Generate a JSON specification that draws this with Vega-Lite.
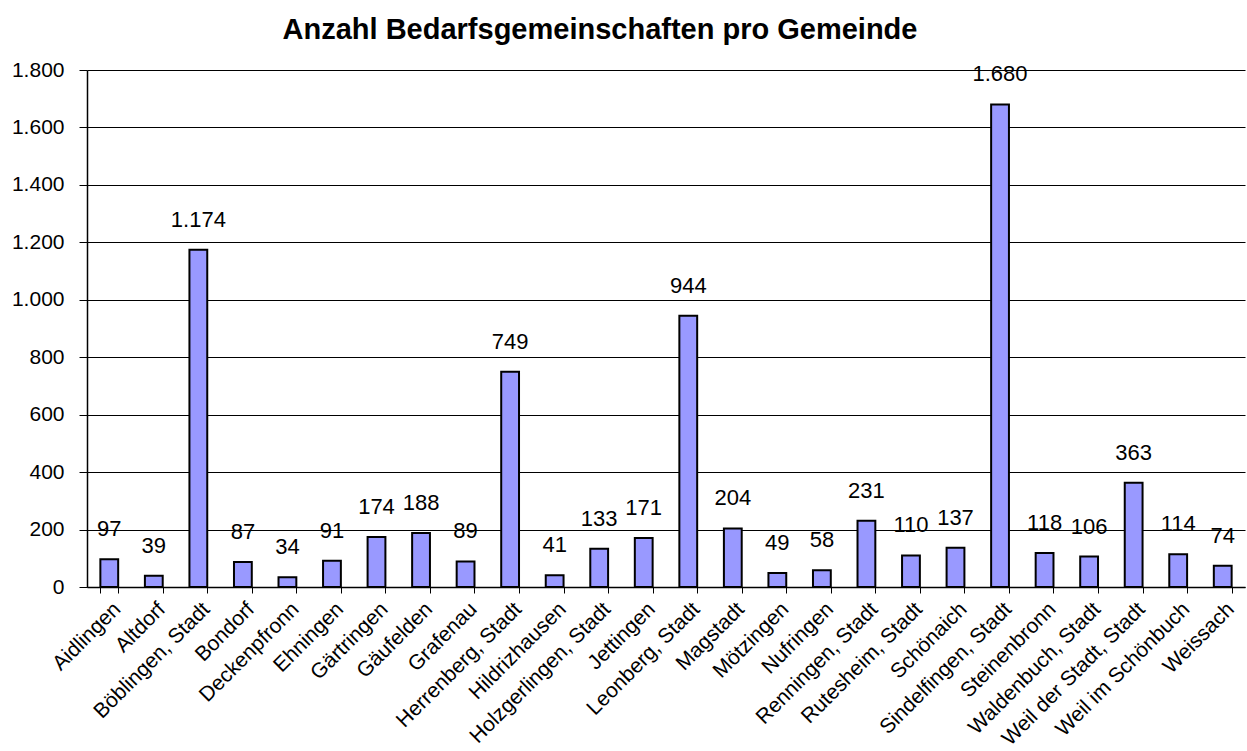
{
  "$schema": "https://vega.github.io/schema/vega-lite/v6.json",
  "width": 1158,
  "height": 517,
  "autosize": "none",
  "padding": {"left": 87, "top": 70, "right": 2, "bottom": 164},
  "background": "white",
  "title": {
    "text": "Anzahl Bedarfsgemeinschaften pro Gemeinde",
    "font": "Liberation Sans",
    "fontSize": 29,
    "fontWeight": "bold",
    "color": "black",
    "anchor": "middle",
    "dx": -66,
    "offset": 14
  },
  "data": {
    "values": [
      {"gemeinde": "Aidlingen", "anzahl": 97},
      {"gemeinde": "Altdorf", "anzahl": 39},
      {"gemeinde": "Böblingen, Stadt", "anzahl": 1174},
      {"gemeinde": "Bondorf", "anzahl": 87},
      {"gemeinde": "Deckenpfronn", "anzahl": 34},
      {"gemeinde": "Ehningen", "anzahl": 91},
      {"gemeinde": "Gärtringen", "anzahl": 174},
      {"gemeinde": "Gäufelden", "anzahl": 188},
      {"gemeinde": "Grafenau", "anzahl": 89},
      {"gemeinde": "Herrenberg, Stadt", "anzahl": 749},
      {"gemeinde": "Hildrizhausen", "anzahl": 41},
      {"gemeinde": "Holzgerlingen, Stadt", "anzahl": 133},
      {"gemeinde": "Jettingen", "anzahl": 171},
      {"gemeinde": "Leonberg, Stadt", "anzahl": 944},
      {"gemeinde": "Magstadt", "anzahl": 204},
      {"gemeinde": "Mötzingen", "anzahl": 49},
      {"gemeinde": "Nufringen", "anzahl": 58},
      {"gemeinde": "Renningen, Stadt", "anzahl": 231},
      {"gemeinde": "Rutesheim, Stadt", "anzahl": 110},
      {"gemeinde": "Schönaich", "anzahl": 137},
      {"gemeinde": "Sindelfingen, Stadt", "anzahl": 1680},
      {"gemeinde": "Steinenbronn", "anzahl": 118},
      {"gemeinde": "Waldenbuch, Stadt", "anzahl": 106},
      {"gemeinde": "Weil der Stadt, Stadt", "anzahl": 363},
      {"gemeinde": "Weil im Schönbuch", "anzahl": 114},
      {"gemeinde": "Weissach", "anzahl": 74}
    ]
  },
  "encoding": {
    "x": {
      "field": "gemeinde",
      "type": "nominal",
      "sort": null,
      "title": null,
      "scale": {"paddingInner": 0.6, "paddingOuter": 0.3},
      "axis": {
        "labelAngle": -45,
        "labelFont": "Liberation Sans",
        "labelFontSize": 21,
        "labelColor": "black",
        "labelPadding": 5,
        "labelOverlap": false,
        "labelLimit": 400,
        "tickBand": "extent",
        "tickColor": "black",
        "tickSize": 6,
        "domainColor": "black",
        "domainWidth": 1.5,
        "grid": false
      }
    },
    "y": {
      "field": "anzahl",
      "type": "quantitative",
      "title": null,
      "scale": {"domain": [0, 1800], "nice": false},
      "axis": {
        "values": [0, 200, 400, 600, 800, 1000, 1200, 1400, 1600, 1800],
        "format": ",d",
        "labelFont": "Liberation Sans",
        "labelFontSize": 21,
        "labelColor": "black",
        "labelPadding": 15,
        "tickColor": "black",
        "tickSize": 8,
        "domainColor": "black",
        "domainWidth": 1.5,
        "grid": true,
        "gridColor": "black",
        "gridOpacity": 1,
        "gridWidth": 1
      }
    }
  },
  "layer": [
    {
      "mark": {"type": "bar", "color": "#9999FF", "stroke": "black", "strokeWidth": 2}
    },
    {
      "mark": {
        "type": "text",
        "baseline": "bottom",
        "dy": -18,
        "font": "Liberation Sans",
        "fontSize": 22,
        "color": "black"
      },
      "encoding": {
        "text": {"field": "anzahl", "type": "quantitative", "format": ",d"}
      }
    }
  ],
  "config": {
    "view": {"stroke": null},
    "locale": {
      "number": {"decimal": ",", "thousands": ".", "grouping": [3], "currency": ["", " €"]}
    }
  }
}
